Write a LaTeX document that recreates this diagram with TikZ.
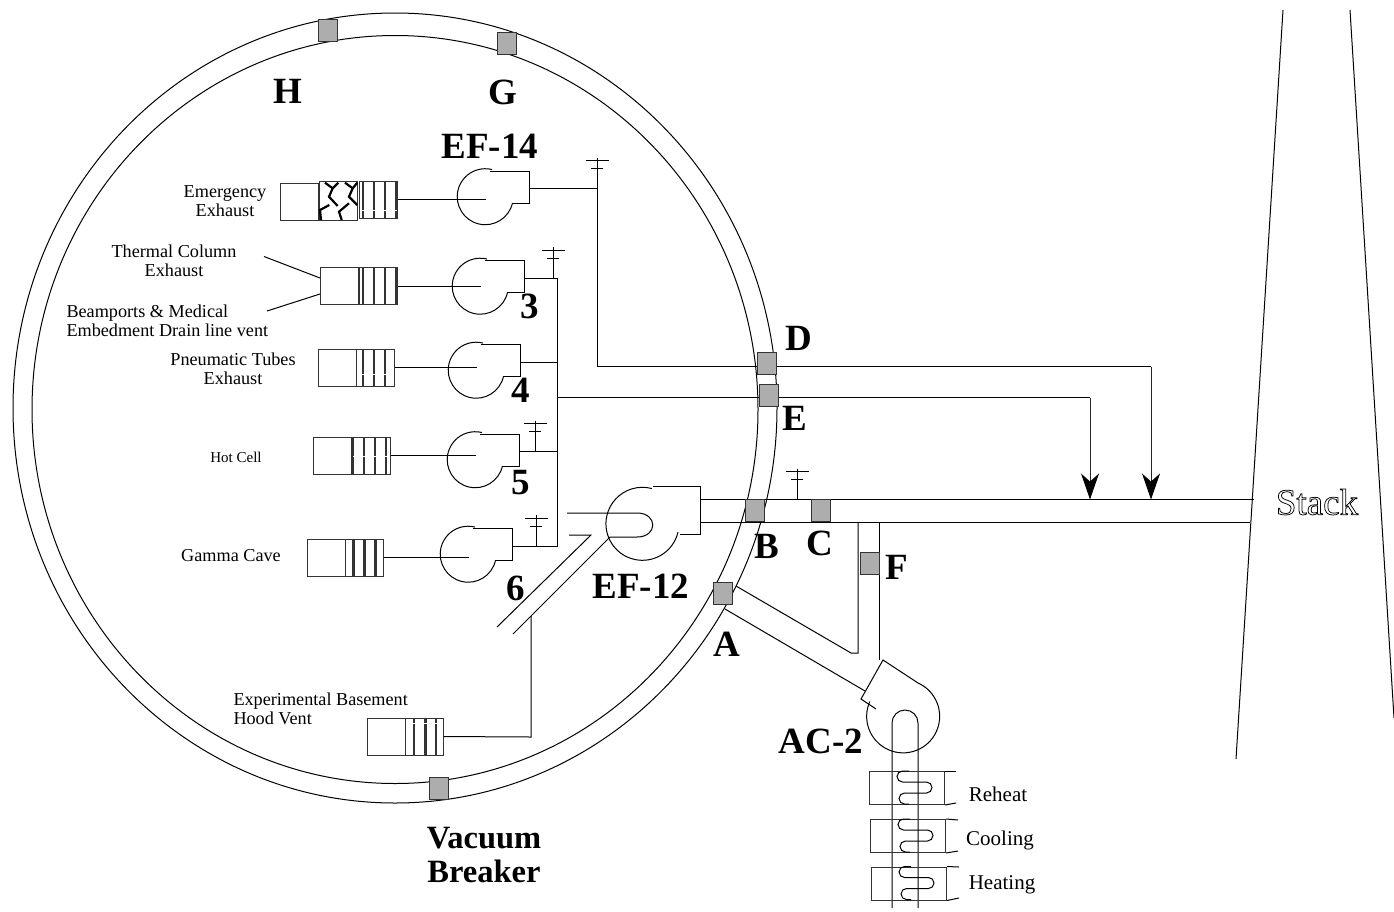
\documentclass[tikz,border=0pt]{standalone}
\usepackage{fontspec}
\setmainfont{Liberation Serif}
\usepackage{tikz}
\usetikzlibrary{arrows.meta}
\usetikzlibrary{shapes.geometric}

% outlined text for the stack label
\newcommand{\outlinetext}[1]{\special{pdf:literal direct 1 Tr 0.75 w}#1\special{pdf:literal direct 0 Tr 1 w}}

\begin{document}
\begin{tikzpicture}[
x=1pt, y=-1pt,
line width=1pt,
damper/.style={
  rectangle,
  draw=black!80,
  fill=black!32,
  minimum width=19pt,
  minimum height=22pt,
  inner sep=0pt
},
plainbox/.style={
  rectangle,
  draw=black!80,
  minimum width=38pt,
  minimum height=37pt,
  inner sep=0pt
},
louver/.style 2 args={
  rectangle,
  draw=black!80,
  minimum width=38pt,
  minimum height=37pt,
  inner sep=0pt,
  path picture={
    \foreach \lx in {#1}
      \draw[line width=2.6pt] ([xshift=\lx pt]path picture bounding box.north) -- ([xshift=\lx pt]path picture bounding box.south);
    \draw[white, line width=0.7pt] ([yshift=#2 pt]path picture bounding box.west) -- ([yshift=#2 pt]path picture bounding box.east);
  }
},
ring/.style={
  ellipse,
  draw=black,
  inner sep=0pt
},
coilbox/.style={
  rectangle,
  draw=black!80,
  minimum width=75pt,
  minimum height=33pt,
  inner sep=0pt
},
biglabel/.style={font=\fontsize{37}{37}\selectfont\bfseries, inner sep=0pt},
smalllabel/.style={font=\fontsize{18.2}{19}\selectfont, inner sep=0pt, align=center},
coillabel/.style={font=\fontsize{21}{21}\selectfont, inner sep=0pt},
duct/.style={black},
downarr/.style={black!85, -{Stealth[length=26pt, width=18pt, inset=8pt, black]}},
fan/.pic={
  \coordinate (-hub) at (1,0);
  \coordinate (-out) at (44,-8.5);
  \draw[duct] (27.5,6) arc (13:284:28);
  \draw[duct] (5,-26) -- (44,-26) -- (44,6) -- (27,6);
},
vent/.pic={
  \coordinate (-top) at (0,-31);
  \draw[duct] (0,-31) -- (0,0);
  \draw[duct] (-11.5,-28) -- (11.5,-28);
  \draw[duct] (-6,-20) -- (6,-20);
},
coil/.pic={
  \draw[duct, rounded corners=5.5pt] (40,0) -- (28,0) -- (28,11) -- (63,11) -- (63,22) -- (30,22) -- (30,33) -- (40,33);
}
]

% ---- CONTAINMENT RING ----
\useasboundingbox (0,0) rectangle (1394,911);
\node[ring, minimum width=764pt, minimum height=790pt] (ringouter) at (395,408) {};
\node[ring, minimum width=726pt, minimum height=748pt] (ringinner) at (395,409.5) {};

% ---- STACK ----
\coordinate (sl1) at (1283,10);
\coordinate (sl2) at (1236,759);
\coordinate (sr1) at (1350,10);
\coordinate (sr2) at (1394,718);
\draw[duct] (sl1) -- (sl2);
\draw[duct] (sr1) -- (sr2);
\node[font=\fontsize{37}{37}\selectfont, inner sep=0pt] (stacklabel) at (1317,502) {\outlinetext{Stack}};

% ---- EXHAUST FANS ----
\pic (f14) at (485,197) {fan};
\pic (f3) at (480,286.5) {fan};
\pic (f4) at (476,370.5) {fan};
\pic (f5) at (475,460) {fan};
\pic (f6) at (468,554.5) {fan};

\node[plainbox] (p14) at (299.5,201.5) {};
\node[plainbox, minimum height=39pt] (mesh14) at (338.5,200.5) {};
\node[louver={{-15,-4,7,18}{-11}}] (l14) at (378,199.5) {};
\node[plainbox] (p3) at (339,286) {};
\node[louver={{-15,-4,7,18}{30}}] (l3) at (378,286) {};
\node[plainbox] (p4) at (337,367.5) {};
\node[louver={{-12,-1,10}{-6.5}}] (l4) at (375,367.5) {};
\node[plainbox] (p5) at (332,455.5) {};
\node[louver={{-18,-7,4,15}{-1}}] (l5) at (371,455.5) {};
\node[plainbox] (p6) at (326.5,557.5) {};
\node[louver={{-11,0,11}{30}}] (l6) at (364.5,557.5) {};
\node[plainbox] (pexp) at (386,736.5) {};
\node[louver={{-10,1.7,12}{13}}] (lexp) at (424,736.5) {};

% mesh filter
\draw[line width=2.2pt] (325,182.7) -- (332.7,188.3) -- (329,196.7) -- (337.7,206);
\draw[line width=2.2pt] (338.3,182.7) -- (332.7,188.3);
\draw[line width=2.2pt] (345,182.7) -- (352.7,188.3) -- (349,196.7) -- (357.3,205);
\draw[line width=2.2pt] (357.3,182.7) -- (352.7,188.3);
\draw[line width=2.2pt] (329.3,205) -- (320,210) -- (321,220);
\draw[line width=2.2pt] (349,203.3) -- (339,211.7) -- (341.7,220);

\draw[duct] (l14.east) -- (l14.east -| f14-hub);
\draw[duct] (l3.east) -- (l3.east -| f3-hub);
\draw[duct] (l4.east) -- (l4.east -| f4-hub);
\draw[duct] (l5.east) -- (l5.east -| f5-hub);
\draw[duct] (l6.east) -- (l6.east -| f6-hub);

% ---- COMMON EXHAUST HEADER ----
\coordinate (h3) at (557.5,278);
\coordinate (h4) at (557.5,362);
\coordinate (h5) at (557.5,451.5);
\coordinate (h6) at (557.5,546);
\coordinate (he) at (557.5,397.5);
\draw[duct] (f3-out) -- (h3) -- (h6) -- (f6-out);
\draw[duct] (f4-out) -- (h4);
\draw[duct] (f5-out) -- (h5);

\pic at (553,278) {vent};
\pic at (535,451.5) {vent};
\pic at (536,546) {vent};
\pic at (597,188.5) {vent};
\pic at (797,499.5) {vent};

% ---- DAMPERS ----
\coordinate (j14) at (597,188.5);
\coordinate (c14) at (597,366.5);
\coordinate (a14) at (1151,366.5);
\coordinate (m14) at (1151,499.5);
\coordinate (ae) at (1090,397.5);
\coordinate (me) at (1090,499.5);
\draw[duct] (f14-out) -- (j14) -- (c14) -- (a14);
\draw[downarr] (a14) -- (m14);
\draw[duct] (he) -- (ae);
\draw[downarr] (ae) -- (me);

% ---- EF-12 AND MAIN DUCT ----
\coordinate (ef12) at (642,523.5);
\coordinate (mt1) at (700,499.5);
\coordinate (mt2) at (1254,499.5);
\coordinate (mb1) at (700,522);
\coordinate (mb2) at (1250,522);
\coordinate (fl) at (858,522);
\coordinate (fr) at (879.5,523);
\coordinate (fl2) at (858,653);
\coordinate (fr2) at (879.5,660);
\coordinate (al1) at (736,586);
\coordinate (al2) at (851,653);
\coordinate (al3) at (725,609);
\coordinate (al4) at (865,691);
\draw[duct] (mt1) -- (mt2);
\draw[duct] (mb1) -- (mb2);
\draw[duct] (fl) -- (fl2) -- (al2) -- (al1);
\draw[duct] (fr) -- (fr2);
\draw[duct] (al3) -- (al4);
\draw[duct] (678,532) arc (13:285:36.5);
\draw[duct] (653,486) -- (700,486) -- (700,534) -- (680,534);

% ---- DUCT 6 ----
\coordinate (d1) at (569,535);
\coordinate (d2) at (591,535);
\coordinate (d3) at (497,627);
\coordinate (d4) at (513,634);
\coordinate (d5) at (610,537);
\coordinate (d6) at (637,537);
\coordinate (d7) at (637,513);
\coordinate (d8) at (567,513);
\coordinate (d9) at (531,616);
\coordinate (d10) at (531,737);
\draw[duct] (d1) -- (d2) -- (d3);
\draw[duct] (d4) -- (d5) -- (d6) .. controls (658,537) and (658,513) .. (d7) -- (d8);
\draw[duct] (d9) -- (d10) -- (lexp.east);

% ---- THERMAL COLUMN BRANCHES ----
\coordinate (th1) at (264,256.5);
\coordinate (th2) at (267,311);
\coordinate (th3) at (320,278);
\coordinate (th4) at (320,294);
\draw[duct] (th1) -- (th3);
\draw[duct] (th2) -- (th4);

% ---- AC-2 ----
\coordinate (ac) at (903,717);
\coordinate (u1) at (892,908);
\coordinate (u2) at (892,723);
\coordinate (u3) at (918,908);
\coordinate (u4) at (918,723);
\draw[duct] (918,683) arc (-66:204:36.5);
\draw[duct] (876,709) -- (861,699) -- (883,660) -- (918,683);
\draw[duct] (u1) -- (u2) arc (180:360:13) -- (u3);

\node[coilbox, anchor=north west] (c1) at (869,771) {};
\node[coilbox, anchor=north west] (c2) at (870,819) {};
\node[coilbox, anchor=north west] (c3) at (871,866.5) {};
\coordinate (c1a) at (956,771);
\coordinate (c1b) at (956,803);
\coordinate (c2a) at (958,820);
\coordinate (c2b) at (958,851);
\coordinate (c3a) at (959,867);
\coordinate (c3b) at (959,898);
\draw[duct] (c1.north east) -- (c1a);
\draw[duct] (c1.south east) -- (c1b);
\draw[duct] (c2.north east) -- (c2a);
\draw[duct] (c2.south east) -- (c2b);
\draw[duct] (c3.north east) -- (c3a);
\draw[duct] (c3.south east) -- (c3b);
\pic at (869,771) {coil};
\pic at (870,819) {coil};
\pic at (871,866.5) {coil};

\node[damper] (dh) at (328,30) {};
\node[damper] (dg) at (507,43) {};
\node[damper] (dd) at (766.5,363) {};
\node[damper] (de) at (769,395.5) {};
\node[damper] (db) at (755,510.5) {};
\node[damper] (dc) at (821,510.5) {};
\node[damper] (df) at (869.5,563) {};
\node[damper] (da) at (722.5,593) {};
\node[damper] (dv) at (439,788) {};

% ---- LABELS ----
\node[biglabel] (lh) at (288,91) {H};
\node[biglabel] (lg) at (503,92) {G};
\node[biglabel] (lef14) at (490,146) {EF-14};
\node[biglabel] (l3n) at (530,306) {3};
\node[biglabel] (l4n) at (521,390) {4};
\node[biglabel] (l5n) at (521,483) {5};
\node[biglabel] (l6n) at (516,588) {6};
\node[biglabel] (lef12) at (641,586) {EF-12};
\node[biglabel] (ld) at (799,338) {D};
\node[biglabel] (le) at (795,418) {E};
\node[biglabel] (lb) at (767,546) {B};
\node[biglabel] (lc) at (820,543) {C};
\node[biglabel] (lf) at (897,567) {F};
\node[biglabel] (la) at (727,644) {A};
\node[biglabel] (lac) at (821,741) {AC-2};
\node[font=\fontsize{32.5}{34}\selectfont\bfseries, align=center, inner sep=0pt] (lvac) at (484,855) {Vacuum\\Breaker};

\node[smalllabel] (t14) at (225,201.5) {Emergency\\Exhaust};
\node[smalllabel] (t3) at (174,261) {Thermal Column\\Exhaust};
\node[smalllabel, align=left, anchor=west] (t3b) at (66,320.5) {Beamports \& Medical\\Embedment Drain line vent};
\node[smalllabel] (t4) at (233,368.5) {Pneumatic Tubes\\Exhaust};
\node[smalllabel, font=\fontsize{15}{15}\selectfont] (t5) at (236,457.5) {Hot Cell};
\node[smalllabel] (t6) at (231,556) {Gamma Cave};
\node[smalllabel, align=left, anchor=west] (texp) at (233,708.5) {Experimental Basement\\Hood Vent};
\node[coillabel] (t1c) at (998,794) {Reheat};
\node[coillabel] (t2c) at (1000,840) {Cooling};
\node[coillabel] (t3c) at (1002,885) {Heating};

\end{tikzpicture}
\end{document}
